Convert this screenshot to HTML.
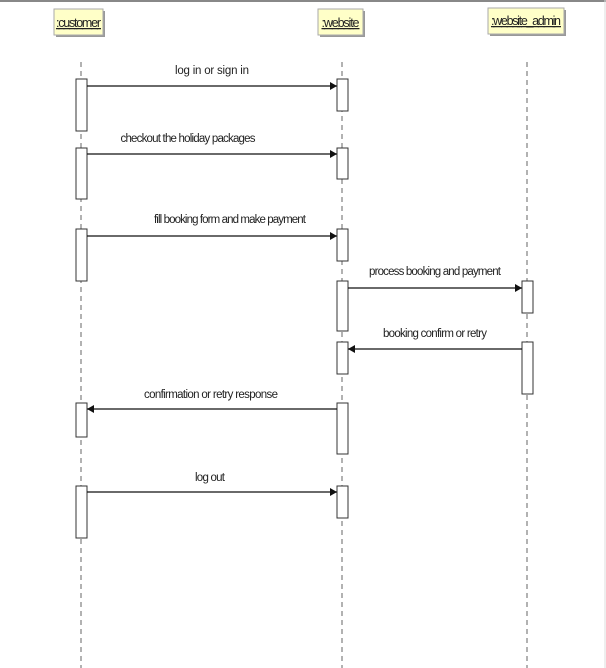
<!DOCTYPE html>
<html><head><meta charset="utf-8"><style>
html,body{margin:0;padding:0;background:#fff;width:606px;height:668px;overflow:hidden}
text{font-family:"Liberation Sans",sans-serif;font-size:11.5px;fill:#222}
.h{font-size:12.5px}
</style></head><body>
<svg width="606" height="668" viewBox="0 0 606 668" xmlns="http://www.w3.org/2000/svg">
<defs>
<marker id="a" markerWidth="8" markerHeight="8" refX="7" refY="4" orient="auto" markerUnits="userSpaceOnUse"><path d="M0,0 L7,4 L0,8 z" fill="#111"/></marker>
</defs>
<line x1="0" y1="1" x2="606" y2="1" stroke="#888" stroke-width="2"/>
<line x1="605" y1="0" x2="605" y2="668" stroke="#ddd" stroke-width="1"/>
<g>
<rect x="56" y="11" width="49" height="26" fill="#999"/>
<rect x="54" y="9" width="49" height="26" fill="#ffffc8" stroke="#aaa"/>
<text class="h" x="78.5" y="27" text-anchor="middle" text-decoration="underline" textLength="45">:customer</text>
<rect x="320" y="11" width="45" height="26" fill="#999"/>
<rect x="318" y="9" width="45" height="26" fill="#ffffc8" stroke="#aaa"/>
<text class="h" x="340.5" y="27" text-anchor="middle" text-decoration="underline" textLength="38">:website</text>
<rect x="490" y="10" width="76" height="26" fill="#999"/>
<rect x="488" y="8" width="76" height="26" fill="#ffffc8" stroke="#aaa"/>
<text class="h" x="526" y="25" text-anchor="middle" text-decoration="underline" textLength="70">:website_admin</text>
</g>
<g stroke="#666" stroke-width="1" stroke-dasharray="5,4">
<line x1="81" y1="62" x2="81" y2="668"/>
<line x1="342" y1="62" x2="342" y2="668"/>
<line x1="527" y1="62" x2="527" y2="668"/>
</g>
<g fill="#fff" stroke="#333" stroke-width="1">
<rect x="76" y="79" width="11" height="52"/>
<rect x="76" y="148" width="11" height="51"/>
<rect x="76" y="229" width="11" height="52"/>
<rect x="76" y="403" width="11" height="34"/>
<rect x="76" y="486" width="11" height="52"/>
<rect x="337" y="79" width="11" height="32"/>
<rect x="337" y="148" width="11" height="31"/>
<rect x="337" y="229" width="11" height="32"/>
<rect x="337" y="281" width="11" height="50"/>
<rect x="337" y="342" width="11" height="32"/>
<rect x="337" y="403" width="11" height="51"/>
<rect x="337" y="486" width="11" height="32"/>
<rect x="522" y="281" width="11" height="32"/>
<rect x="522" y="342" width="11" height="52"/>
</g>
<g stroke="#111" stroke-width="1.2" marker-end="url(#a)">
<line x1="87" y1="86" x2="337" y2="86"/>
<line x1="87" y1="154" x2="337" y2="154"/>
<line x1="87" y1="236" x2="337" y2="236"/>
<line x1="348" y1="288" x2="522" y2="288"/>
<line x1="522" y1="349" x2="348" y2="349"/>
<line x1="337" y1="409" x2="87" y2="409"/>
<line x1="87" y1="492" x2="337" y2="492"/>
</g>
<text x="212" y="74" text-anchor="middle" textLength="74">log in or sign in</text>
<text x="188" y="142" text-anchor="middle" textLength="135">checkout the holiday packages</text>
<text x="230" y="223" text-anchor="middle" textLength="152">fill booking form and make payment</text>
<text x="435" y="275" text-anchor="middle" textLength="132">process booking and payment</text>
<text x="435" y="337" text-anchor="middle" textLength="104">booking confirm or retry</text>
<text x="211" y="398" text-anchor="middle" textLength="134">confirmation or retry response</text>
<text x="210" y="481" text-anchor="middle" textLength="30">log out</text>
</svg>
</body></html>
